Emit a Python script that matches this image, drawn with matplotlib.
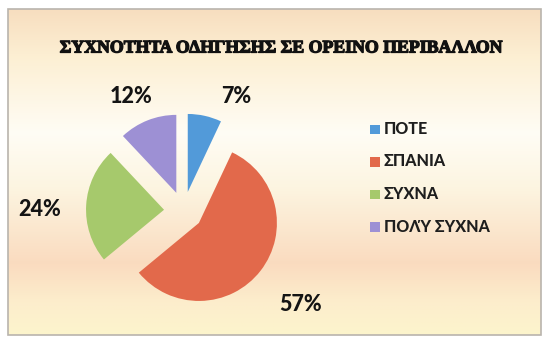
import numpy as np
import matplotlib
matplotlib.use("Agg")
import matplotlib.pyplot as plt
import matplotlib.patheffects as pe
from matplotlib.patches import Rectangle

# Survey answers and their shares (%)
categories = ["ΠΟΤΕ", "ΣΠΑΝΙΑ", "ΣΥΧΝΑ", "ΠΟΛΎ ΣΥΧΝΑ"]
shares = [7, 57, 24, 12]
colors = ["#529ad9", "#e2694b", "#a6c96c", "#9d90d4"]
title = "ΣΥΧΝΟΤΗΤΑ ΟΔΗΓΗΣΗΣ ΣΕ ΟΡΕΙΝΟ ΠΕΡΙΒΑΛΛΟΝ"

W, H = 549, 344
fig = plt.figure(figsize=(W / 100, H / 100), dpi=100)
fig.patch.set_facecolor("white")

# background panel with a soft vertical gradient
bg = fig.add_axes([0, 0, 1, 1])
bg.set_xlim(0, W)
bg.set_ylim(H, 0)
bg.axis("off")
box = (8, 9, 541, 335)
stops_y = np.array([0.0, 0.15, 0.38, 0.55, 0.78, 0.9, 1.0])
stops_c = np.array([
    [0.97, 0.87, 0.75],
    [0.99, 0.94, 0.83],
    [1.00, 0.99, 0.96],
    [0.99, 0.96, 0.88],
    [0.98, 0.86, 0.75],
    [0.99, 0.93, 0.80],
    [0.99, 0.96, 0.80],
])
ys = np.linspace(0, 1, 300)
grad = np.stack([np.interp(ys, stops_y, stops_c[:, k]) for k in range(3)], axis=-1)
img = np.repeat(grad[:, None, :], 2, axis=1)
bg.imshow(img, extent=(box[0], box[2], box[3], box[1]), aspect="auto", zorder=0)
bg.add_patch(Rectangle((box[0], box[1]), box[2] - box[0], box[3] - box[1],
                       fill=False, edgecolor="#b9b4ad", linewidth=1.2, zorder=1))

bg.text(281, 48, title, ha="center", va="center", fontsize=12.8,
        fontweight="bold", family=["Liberation Serif", "DejaVu Serif"], color="#111111",
        path_effects=[pe.withStroke(linewidth=0.9, foreground="#111111")])

# pie axes: centre and radius in pixels
cx, cy, r, S = 183.5, 211, 78, 170
ax = fig.add_axes([(cx - S) / W, (H - cy - S) / H, 2 * S / W, 2 * S / H])
wedges, _ = ax.pie(shares, colors=colors, startangle=90, counterclock=False,
                   explode=[0.25] * len(shares),
                   wedgeprops=dict(linewidth=0))
ax.set_xlim(-S / r, S / r)
ax.set_ylim(-S / r, S / r)
ax.axis("off")

label_dist = [1.62, 1.92, 1.84, 1.62]
label_turn = [12, 1, -3, -3]
for w, val, d, t in zip(wedges, shares, label_dist, label_turn):
    mid = np.deg2rad((w.theta1 + w.theta2) / 2 - t)
    ax.text(d * np.cos(mid), d * np.sin(mid), f"{val}%", ha="center", va="center",
            fontsize=15.5, fontweight=900, family=["Lato", "DejaVu Sans"], color="#141414")

# legend drawn as squares and labels
for i, (name, c) in enumerate(zip(categories, colors)):
    y = 129 + i * 32.5
    bg.add_patch(Rectangle((370, y - 4.5), 10, 9.5, facecolor=c, edgecolor="none", zorder=2))
    bg.text(384, y, name, ha="left", va="center", fontsize=11.5, fontweight=900,
            family=["Lato", "DejaVu Sans"], color="#1e1e1e", zorder=2)

fig.savefig("out.png", dpi=100)
